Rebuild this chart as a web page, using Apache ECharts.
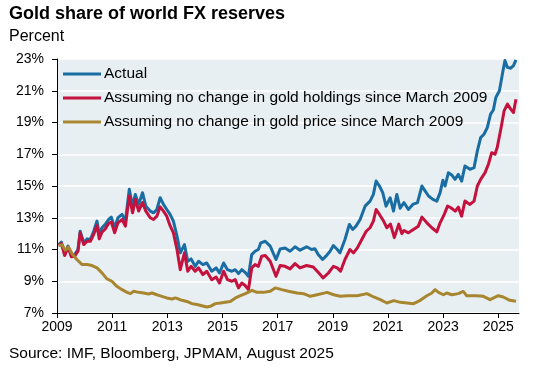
<!DOCTYPE html>
<html>
<head>
<meta charset="utf-8">
<script src="https://cdn.jsdelivr.net/npm/echarts@6/dist/echarts.min.js"></script>
<style>
html,body{margin:0;padding:0;background:#fff;}
#c{width:551px;height:372px;}
</style>
</head>
<body>
<div id="c"></div>
<script>
var seriesNames = [
  'Actual',
  'Assuming no change in gold holdings since March 2009',
  'Assuming no change in gold price since March 2009'
];
var xTickYears = [2009, 2011, 2013, 2015, 2017, 2019, 2021, 2023, 2025];
var yTicks = [7, 9, 11, 13, 15, 17, 19, 21, 23];

// Actual
var actualDates = [2009.06,2009.16,2009.28,2009.40,2009.52,2009.64,2009.76,2009.84,2009.97,2010.09,2010.21,2010.33,2010.45,2010.53,2010.63,2010.75,2010.87,2010.97,2011.09,2011.21,2011.36,2011.48,2011.62,2011.74,2011.84,2011.96,2012.10,2012.22,2012.38,2012.50,2012.62,2012.74,2012.86,2012.98,2013.10,2013.22,2013.35,2013.47,2013.62,2013.74,2013.86,2014.01,2014.13,2014.29,2014.43,2014.61,2014.77,2014.89,2015.04,2015.18,2015.34,2015.46,2015.58,2015.70,2015.82,2015.94,2016.06,2016.18,2016.30,2016.39,2016.55,2016.73,2016.94,2017.09,2017.27,2017.45,2017.63,2017.81,2018.05,2018.23,2018.35,2018.47,2018.63,2018.75,2018.90,2019.02,2019.16,2019.26,2019.44,2019.60,2019.72,2019.84,2019.99,2020.17,2020.35,2020.47,2020.57,2020.69,2020.81,2020.93,2021.08,2021.20,2021.32,2021.44,2021.58,2021.74,2021.90,2022.07,2022.23,2022.35,2022.47,2022.63,2022.77,2022.89,2022.99,2023.07,2023.19,2023.31,2023.43,2023.55,2023.67,2023.79,2023.97,2024.12,2024.24,2024.36,2024.48,2024.60,2024.72,2024.82,2024.91,2025.04,2025.16,2025.24,2025.33,2025.45,2025.55,2025.64];
var actualValues = [11.31,11.46,10.68,11.21,10.62,10.68,11.0,12.15,11.42,11.67,11.63,12.15,12.79,11.95,12.37,12.58,12.89,13.04,12.37,13.0,13.21,12.79,14.79,13.73,14.47,13.84,14.58,13.73,13.42,13.31,13.52,14.26,13.84,13.52,13.21,12.79,11.84,10.79,11.31,10.26,10.41,9.94,10.26,10.05,10.15,9.63,9.84,9.52,10.15,9.73,9.63,9.73,9.48,9.73,9.56,9.31,10.68,10.89,11.0,11.42,11.52,11.21,10.37,11.03,11.1,10.89,11.17,10.96,11.17,11.0,11.05,10.68,10.37,10.58,10.89,11.25,11.0,10.79,11.63,12.58,12.26,12.47,12.89,13.73,14.05,14.47,15.31,15.0,14.58,13.73,14.26,13.42,14.47,13.6,13.95,13.52,13.84,13.95,15.0,14.68,14.37,14.16,14.05,14.58,15.36,15.0,15.84,15.7,15.42,15.73,15.31,16.26,16.05,16.16,17.21,18.05,18.26,18.68,19.53,19.79,20.58,21.0,22.16,22.9,22.47,22.42,22.58,22.94];

// Assuming no change in gold holdings
var holdingsDates = [2009.06,2009.16,2009.28,2009.40,2009.52,2009.64,2009.76,2009.84,2009.97,2010.09,2010.21,2010.33,2010.45,2010.53,2010.63,2010.75,2010.87,2010.97,2011.09,2011.21,2011.36,2011.48,2011.62,2011.74,2011.84,2011.96,2012.10,2012.22,2012.38,2012.50,2012.62,2012.74,2012.86,2012.98,2013.10,2013.22,2013.35,2013.47,2013.62,2013.74,2013.86,2014.01,2014.13,2014.29,2014.43,2014.61,2014.77,2014.89,2015.04,2015.18,2015.34,2015.46,2015.58,2015.70,2015.82,2015.94,2016.06,2016.18,2016.30,2016.42,2016.55,2016.73,2016.94,2017.09,2017.27,2017.45,2017.63,2017.81,2018.05,2018.29,2018.47,2018.65,2018.84,2019.02,2019.16,2019.28,2019.44,2019.62,2019.75,2019.89,2020.05,2020.21,2020.35,2020.47,2020.57,2020.69,2020.84,2020.96,2021.09,2021.23,2021.39,2021.50,2021.58,2021.74,2021.92,2022.10,2022.23,2022.41,2022.59,2022.77,2022.89,2023.04,2023.16,2023.28,2023.44,2023.55,2023.67,2023.79,2023.97,2024.12,2024.24,2024.36,2024.52,2024.64,2024.76,2024.88,2024.96,2025.09,2025.21,2025.33,2025.45,2025.55,2025.64];
var holdingsValues = [11.25,11.38,10.62,11.15,10.54,10.58,10.89,12.05,11.31,11.52,11.52,11.95,12.51,11.67,12.09,12.3,12.64,12.73,12.05,12.68,12.89,12.47,14.37,13.31,14.16,13.42,13.95,13.42,13.0,12.89,13.1,13.69,13.42,13.1,12.5,12.05,11.0,9.73,10.79,9.63,9.94,9.63,9.84,9.42,9.63,9.1,9.27,8.89,9.63,9.1,9.0,9.1,8.58,8.89,8.73,8.47,9.84,10.05,9.94,10.58,10.62,10.26,9.31,9.99,9.94,9.78,10.11,9.84,9.99,9.9,9.57,9.21,9.52,9.94,9.84,9.63,10.37,11.0,10.79,11.1,11.63,12.15,12.37,12.79,13.52,13.21,12.79,12.37,12.6,11.75,12.6,12.0,12.2,12.05,12.26,12.47,13.04,12.68,12.37,12.11,12.68,13.21,13.73,13.63,13.42,13.67,13.1,14.05,13.84,14.05,15.0,15.42,15.84,16.37,17.1,17.0,17.42,18.58,19.73,20.16,19.84,19.63,20.47];

// Assuming no change in gold price
var priceDates = [2009.06,2009.18,2009.30,2009.42,2009.54,2009.72,2009.91,2010.09,2010.27,2010.45,2010.63,2010.81,2010.99,2011.17,2011.36,2011.54,2011.66,2011.78,2011.96,2012.14,2012.32,2012.44,2012.62,2012.80,2012.98,2013.17,2013.29,2013.41,2013.53,2013.71,2013.89,2014.07,2014.25,2014.43,2014.56,2014.74,2014.92,2015.10,2015.28,2015.47,2015.65,2015.83,2016.07,2016.25,2016.49,2016.73,2016.91,2017.15,2017.39,2017.70,2017.94,2018.18,2018.43,2018.79,2019.03,2019.27,2019.51,2019.88,2020.24,2020.48,2020.72,2020.96,2021.21,2021.45,2021.69,2021.93,2022.17,2022.41,2022.59,2022.71,2022.83,2023.01,2023.13,2023.31,2023.55,2023.73,2023.85,2024.03,2024.21,2024.46,2024.70,2025.00,2025.18,2025.42,2025.64];
var priceValues = [11.25,11.3,10.95,11.15,10.75,10.37,10.05,10.05,9.99,9.84,9.53,9.15,9.0,8.68,8.47,8.30,8.22,8.37,8.30,8.26,8.2,8.26,8.15,8.05,7.95,7.88,7.95,7.88,7.8,7.73,7.59,7.53,7.46,7.38,7.42,7.59,7.63,7.68,7.73,7.95,8.09,8.22,8.43,8.30,8.30,8.37,8.58,8.47,8.37,8.26,8.22,8.05,8.15,8.30,8.15,8.05,8.09,8.09,8.22,8.01,7.84,7.63,7.78,7.67,7.63,7.59,7.8,8.09,8.26,8.47,8.30,8.15,8.26,8.15,8.22,8.36,8.09,8.09,8.09,8.05,7.84,8.09,8.01,7.8,7.74];

function pairs(d, v) { return d.map(function (x, i) { return [x, v[i]]; }); }

var FONT = '"Liberation Sans", Arial, sans-serif';
var colors = ['#1a6da3', '#c4113d', '#a8852f'];

var chart = echarts.init(document.getElementById('c'), null, {renderer: 'canvas'});
chart.setOption({
  animation: false,
  backgroundColor: '#ffffff',
  color: colors,
  title: [
    {text: 'Gold share of world FX reserves', left: 9, top: 5, padding: 0,
     textStyle: {fontFamily: FONT, fontSize: 18, fontWeight: 'bold', color: '#000'}},
    {text: 'Percent', left: 9, top: 29, padding: 0,
     textStyle: {fontFamily: FONT, fontSize: 16, fontWeight: 'normal', color: '#000'}},
    {text: 'Source: IMF, Bloomberg, JPMAM, August 2025', left: 9, top: 346, padding: 0,
     textStyle: {fontFamily: FONT, fontSize: 15.5, fontWeight: 'normal', color: '#000'}}
  ],
  legend: {
    orient: 'vertical', left: 63, top: 66, padding: 0,
    itemWidth: 38, itemHeight: 3, itemGap: 8, icon: 'rect',
    textStyle: {fontFamily: FONT, fontSize: 15.5, color: '#000', padding: [0, 0, 0, -2]},
    data: seriesNames
  },
  grid: {left: 57, right: 32, top: 59, bottom: 59, show: true, backgroundColor: '#e7eff3', borderWidth: 0},
  xAxis: {
    type: 'value', min: 2009, max: 2025.75,
    axisLine: {show: true, lineStyle: {color: '#000', width: 1}},
    axisTick: {show: true, length: 5, lineStyle: {color: '#000'}, customValues: xTickYears},
    axisLabel: {fontFamily: FONT, fontSize: 14, color: '#000', margin: 7, customValues: xTickYears,
      formatter: function (v) { return String(Math.round(v)); }},
    splitLine: {show: false}
  },
  yAxis: {
    type: 'value', min: 7, max: 23, interval: 2,
    axisLine: {show: true, lineStyle: {color: '#000', width: 1}},
    axisTick: {show: true, length: 5, lineStyle: {color: '#000'}},
    axisLabel: {fontFamily: FONT, fontSize: 14, color: '#000', margin: 13, formatter: '{value}%'},
    splitLine: {show: true, lineStyle: {color: '#ffffff', width: 1.5}}
  },
  series: [
    {name: seriesNames[0], type: 'line', data: pairs(actualDates, actualValues), symbol: 'none',
     lineStyle: {width: 3, color: colors[0], join: 'round'}},
    {name: seriesNames[1], type: 'line', data: pairs(holdingsDates, holdingsValues), symbol: 'none',
     lineStyle: {width: 3, color: colors[1], join: 'round'}},
    {name: seriesNames[2], type: 'line', data: pairs(priceDates, priceValues), symbol: 'none',
     lineStyle: {width: 3, color: colors[2], join: 'round'}}
  ]
});
</script>
</body>
</html>
